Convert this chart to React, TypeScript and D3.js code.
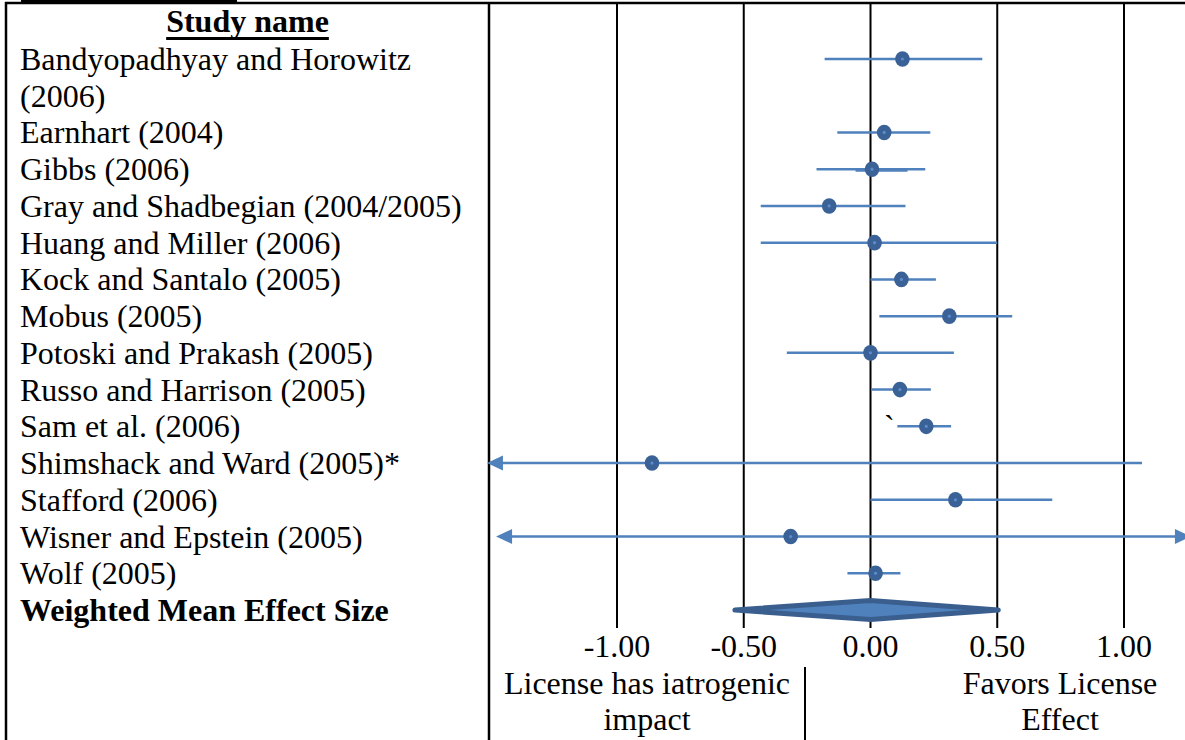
import React, { useMemo } from "react";
import * as d3 from "d3";

// Study-level effect sizes with 95% confidence limits
const studies = [
  "Bandyopadhyay and Horowitz (2006)",
  "Earnhart (2004)",
  "Gibbs (2006)",
  "Gray and Shadbegian (2004/2005)",
  "Huang and Miller (2006)",
  "Kock and Santalo (2005)",
  "Mobus (2005)",
  "Potoski and Prakash (2005)",
  "Russo and Harrison (2005)",
  "Sam et al. (2006)",
  "Shimshack and Ward (2005)*",
  "Stafford (2006)",
  "Wisner and Epstein (2005)",
  "Wolf (2005)",
];
const effect = [0.126, 0.054, 0.006, -0.163, 0.016, 0.122, 0.311, 0.0, 0.116, 0.22, -0.862, 0.335, -0.315, 0.02];
const lower = [-0.181, -0.131, -0.213, -0.433, -0.433, 0.0, 0.035, -0.33, 0.003, 0.106, -1.513, 0.0, -1.477, -0.091];
const upper = [0.441, 0.236, 0.216, 0.138, 0.5, 0.258, 0.559, 0.329, 0.238, 0.318, 1.071, 0.717, 1.264, 0.118];
// Interval continues past the plotted range
const arrowLow = [false, false, false, false, false, false, false, false, false, false, true, false, true, false];
const arrowHigh = [false, false, false, false, false, false, false, false, false, false, false, false, true, false];
// Overlapping second interval segment drawn for Gibbs (2006)
const extraLower = [null, null, -0.059, null, null, null, null, null, null, null, null, null, null, null];
const extraUpper = [null, null, 0.146, null, null, null, null, null, null, null, null, null, null, null];

const pooledLabel = "Weighted Mean Effect Size";
const pooledEffect = 0.0;
const pooledLower = -0.535;
const pooledUpper = 0.504;

const tickValues = [-1, -0.5, 0, 0.5, 1];
const headerLabel = "Study name";
const leftNote = ["License has iatrogenic", "impact"];
const rightNote = ["Favors License", "Effect"];

const W = 1185;
const H = 740;
const FONT = "'Liberation Serif', 'Times New Roman', serif";
const FS = 32;
const LINE_COLOR = "#4F81BD";
const MARK_COLOR = "#3A6297";

function measure(text: string, bold = false) {
  const c = document.createElement("canvas").getContext("2d")!;
  c.font = `${bold ? "bold " : ""}${FS}px ${FONT}`;
  return c.measureText(text).width;
}

function wrap(text: string, maxW: number): string[] {
  const words = text.split(" ");
  const lines: string[] = [];
  let cur = "";
  for (const w of words) {
    const t = cur ? cur + " " + w : w;
    if (cur && measure(t) > maxW) {
      lines.push(cur);
      cur = w;
    } else cur = t;
  }
  if (cur) lines.push(cur);
  return lines;
}

export default function App() {
  const layout = useMemo(() => {
    const rows: { lines: string[]; start: number }[] = [];
    let idx = 0;
    for (const s of studies) {
      const lines = wrap(s, 462);
      rows.push({ lines, start: idx });
      idx += lines.length;
    }
    return { rows, pooledLine: idx, headerW: measure(headerLabel, true) };
  }, []);

  const x = d3.scaleLinear().domain([-1, 1]).range([617, 1124]);
  const lineY = d3.scaleLinear().domain([0, 15]).range([70, 621]);
  const markY = (i: number) => lineY(i) - 11;

  const tableLeft = 6;
  const divider = 489;
  const noteSplit = 805;
  const gridBottom = 628;

  const arrow = (tipX: number, y: number, dir: number) =>
    `M${tipX},${y} L${tipX - dir * 16},${y - 7.5} L${tipX - dir * 16},${y + 7.5} Z`;

  const py = markY(layout.pooledLine);
  const diamond = [
    [x(pooledLower), py],
    [x(pooledEffect), py - 9.5],
    [x(pooledUpper), py],
    [x(pooledEffect), py + 9.5],
  ];

  return (
    <div style={{ position: "absolute", left: 0, top: 0 }}>
      <svg width={W} height={H} style={{ display: "block", background: "#fff" }} fontFamily={FONT}>
        {/* table frame */}
        <rect x={21} y={0} width={216} height={3.5} fill="#000" />
        <line x1={tableLeft - 1} x2={W} y1={3} y2={3} stroke="#000" strokeWidth={2.5} />
        <line x1={tableLeft} x2={tableLeft} y1={2} y2={H} stroke="#000" strokeWidth={2.5} />
        <line x1={divider} x2={divider} y1={2} y2={H} stroke="#000" strokeWidth={2.5} />
        <line x1={noteSplit} x2={noteSplit} y1={667} y2={H} stroke="#000" strokeWidth={2} />

        {/* vertical gridlines */}
        {tickValues.map((t) => (
          <line key={t} x1={x(t)} x2={x(t)} y1={3} y2={gridBottom} stroke="#000" strokeWidth={2} />
        ))}

        {/* header */}
        <text x={247.5} y={32} textAnchor="middle" fontWeight="bold" fontSize={FS}>
          {headerLabel}
        </text>
        <rect x={247.5 - layout.headerW / 2} y={37} width={layout.headerW} height={3} fill="#000" />

        {/* study labels */}
        {layout.rows.map((r, i) =>
          r.lines.map((ln, k) => (
            <text key={`${i}-${k}`} x={20} y={lineY(r.start + k)} fontSize={FS}>
              {ln}
            </text>
          ))
        )}
        <text x={20} y={lineY(layout.pooledLine)} fontSize={FS} fontWeight="bold">
          {pooledLabel}
        </text>
        <text x={884} y={lineY(layout.rows[9].start)} fontSize={FS}>
          `
        </text>

        {/* confidence intervals and point estimates */}
        {studies.map((s, i) => {
          const y = markY(layout.rows[i].start);
          const x0 = x(lower[i]);
          const x1 = x(upper[i]);
          return (
            <g key={s}>
              <line
                x1={arrowLow[i] ? x0 + 12 : x0}
                x2={arrowHigh[i] ? x1 - 12 : x1}
                y1={y}
                y2={y}
                stroke={LINE_COLOR}
                strokeWidth={2.5}
              />
              {extraLower[i] != null && (
                <line
                  x1={x(extraLower[i] as number)}
                  x2={x(extraUpper[i] as number)}
                  y1={y + 1.5}
                  y2={y + 1.5}
                  stroke={LINE_COLOR}
                  strokeWidth={2}
                />
              )}
              {arrowLow[i] && <path d={arrow(x0, y, -1)} fill={LINE_COLOR} />}
              {arrowHigh[i] && <path d={arrow(x1, y, 1)} fill={LINE_COLOR} />}
              <ellipse cx={x(effect[i])} cy={y} rx={7.3} ry={7.8} fill={MARK_COLOR} />
              <circle cx={x(effect[i])} cy={y} r={1.6} fill="#5B8CCB" />
            </g>
          );
        })}

        {/* pooled estimate */}
        <path
          d={d3.line()(diamond as [number, number][]) + "Z"}
          fill={LINE_COLOR}
          stroke="#3A5F8F"
          strokeWidth={5}
          strokeLinejoin="round"
        />

        {/* tick labels */}
        {tickValues.map((t) => (
          <text key={t} x={x(t)} y={657} textAnchor="middle" fontSize={FS}>
            {d3.format(".2f")(t).replace("−", "-")}
          </text>
        ))}

        {/* direction notes */}
        {leftNote.map((t, k) => (
          <text key={t} x={(divider + noteSplit) / 2} y={694 + k * 36} textAnchor="middle" fontSize={FS}>
            {t}
          </text>
        ))}
        {rightNote.map((t, k) => (
          <text key={t} x={1060} y={694 + k * 36} textAnchor="middle" fontSize={FS}>
            {t}
          </text>
        ))}
      </svg>
    </div>
  );
}
